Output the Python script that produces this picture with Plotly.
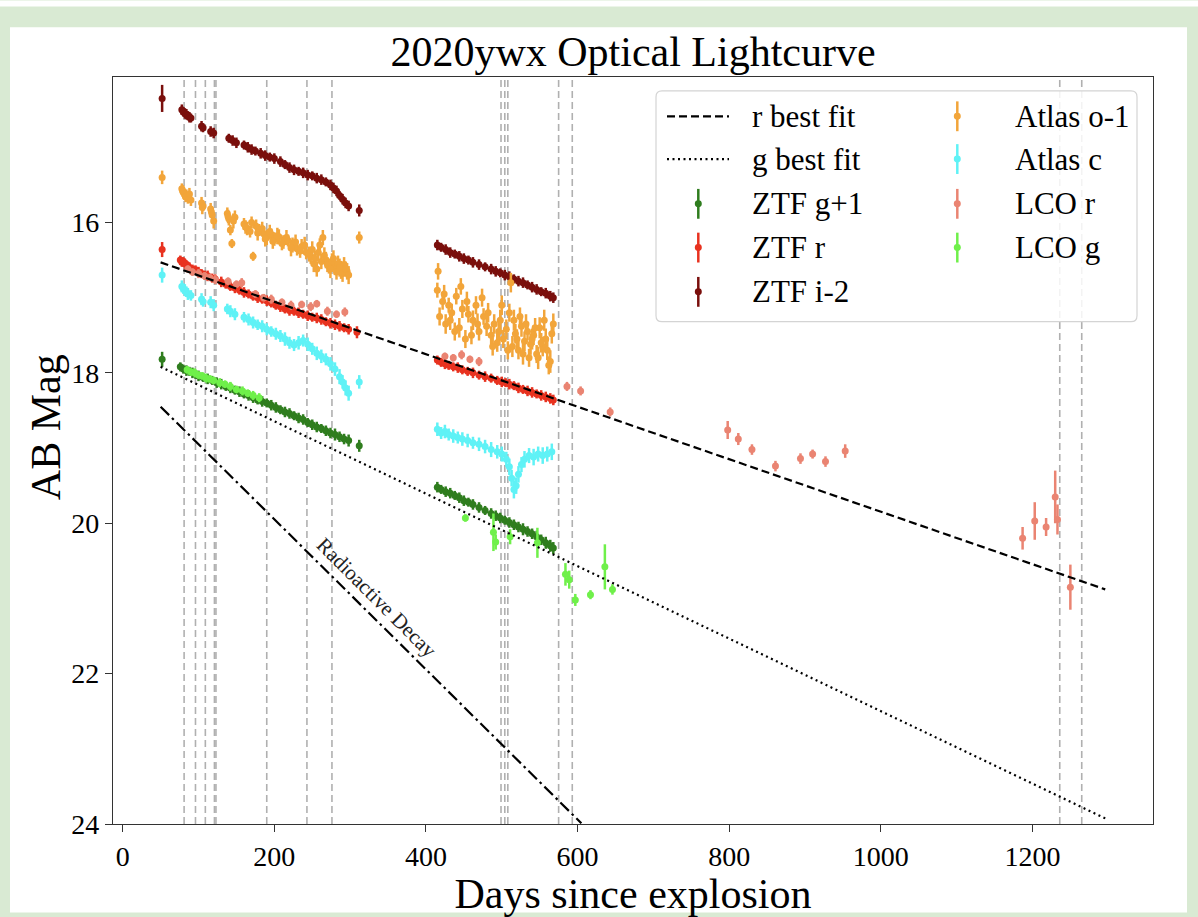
import plotly.graph_objects as go

# ---------------- data ----------------
ztf_g_days = [52, 76, 80, 84, 88, 92, 96, 100, 106, 112, 118, 124, 130, 136, 142, 148,
              154, 160, 166, 172, 178, 184, 190, 196, 202, 208, 214, 220, 226, 232, 238, 244,
              250, 256, 262, 268, 274, 280, 286, 292, 298, 312,
              415, 420, 426, 432, 438, 444, 450, 456, 462, 470, 478, 486, 492, 498, 504, 510,
              516, 522, 528, 534, 540, 546, 552, 558, 564, 568]
ztf_g_mag = [17.82, 17.92, 17.95, 17.97, 17.98, 18.00, 18.02, 18.04, 18.06, 18.08, 18.10, 18.13, 18.15, 18.18, 18.20, 18.23,
             18.25, 18.28, 18.30, 18.33, 18.36, 18.38, 18.40, 18.43, 18.46, 18.49, 18.52, 18.54, 18.57, 18.60, 18.62, 18.66,
             18.69, 18.72, 18.74, 18.77, 18.80, 18.82, 18.85, 18.88, 18.90, 18.97,
             19.52, 19.55, 19.58, 19.60, 19.63, 19.66, 19.70, 19.72, 19.75, 19.79, 19.83, 19.87, 19.90, 19.93, 19.96, 19.99,
             20.02, 20.05, 20.08, 20.11, 20.14, 20.18, 20.22, 20.26, 20.30, 20.33]
ztf_g_err = [0.10, 0.06, 0.06, 0.07, 0.06, 0.07, 0.06, 0.07, 0.06, 0.07, 0.06, 0.07, 0.07, 0.06, 0.07, 0.06,
             0.07, 0.06, 0.07, 0.07, 0.06, 0.07, 0.06, 0.07, 0.07, 0.06, 0.07, 0.07, 0.06, 0.07, 0.07, 0.06,
             0.07, 0.07, 0.06, 0.07, 0.07, 0.08, 0.07, 0.07, 0.08, 0.08,
             0.07, 0.06, 0.07, 0.07, 0.06, 0.07, 0.07, 0.06, 0.07, 0.07, 0.06, 0.07, 0.07, 0.07, 0.06, 0.07,
             0.07, 0.07, 0.08, 0.07, 0.07, 0.08, 0.07, 0.08, 0.08, 0.08]

ztf_r_days = [52, 76, 78, 80, 82, 84, 86, 88, 92, 96, 100, 104, 108, 112, 118, 122,
              130, 136, 142, 148, 154, 160, 166, 172, 178, 184, 190, 196, 202, 208, 214, 220,
              226, 232, 238, 244, 250, 256, 262, 268, 274, 280, 286, 292, 298, 309,
              415, 420, 425, 430, 436, 442, 448, 455, 462, 470, 478, 486, 494, 500, 505, 510,
              516, 522, 528, 534, 540, 546, 552, 558, 564, 568]
ztf_r_mag = [16.36, 16.50, 16.53, 16.52, 16.55, 16.56, 16.58, 16.60, 16.62, 16.63, 16.66, 16.68, 16.70, 16.71, 16.74, 16.75,
             16.79, 16.82, 16.85, 16.87, 16.90, 16.93, 16.95, 16.98, 17.00, 17.02, 17.04, 17.07, 17.10, 17.12, 17.15, 17.17,
             17.18, 17.20, 17.22, 17.24, 17.26, 17.27, 17.29, 17.32, 17.34, 17.36, 17.38, 17.40, 17.42, 17.46,
             17.83, 17.86, 17.88, 17.90, 17.92, 17.93, 17.96, 17.98, 18.00, 18.03, 18.05, 18.07, 18.10, 18.12, 18.13, 18.15,
             18.17, 18.20, 18.22, 18.24, 18.26, 18.28, 18.30, 18.32, 18.34, 18.36]
ztf_r_err = [0.10, 0.06, 0.06, 0.06, 0.07, 0.06, 0.06, 0.07, 0.06, 0.06, 0.07, 0.06, 0.06, 0.07, 0.06, 0.06,
             0.07, 0.06, 0.06, 0.07, 0.06, 0.07, 0.06, 0.06, 0.07, 0.06, 0.07, 0.06, 0.06, 0.07, 0.06, 0.07,
             0.06, 0.07, 0.06, 0.07, 0.06, 0.07, 0.07, 0.06, 0.07, 0.07, 0.07, 0.06, 0.07, 0.08,
             0.06, 0.06, 0.07, 0.06, 0.06, 0.07, 0.06, 0.06, 0.07, 0.06, 0.07, 0.06, 0.06, 0.07, 0.06, 0.07,
             0.06, 0.07, 0.06, 0.07, 0.07, 0.06, 0.07, 0.07, 0.07, 0.07]

ztf_i_days = [52, 78, 80, 82, 84, 86, 88, 90, 104, 106, 116, 120, 140, 145, 150, 160,
              165, 170, 175, 182, 188, 194, 200, 208, 214, 220, 226, 232, 238, 244, 250, 256,
              262, 268, 274, 278, 282, 286, 290, 294, 298, 312,
              415, 420, 426, 432, 438, 444, 450, 456, 462, 470, 478, 486, 492, 498, 504, 510,
              516, 522, 528, 534, 540, 546, 552, 558, 564, 568]
ztf_i_mag = [14.35, 14.50, 14.53, 14.55, 14.56, 14.58, 14.60, 14.61, 14.72, 14.74, 14.79, 14.81, 14.88, 14.91, 14.94, 14.97,
             15.00, 15.03, 15.05, 15.08, 15.11, 15.13, 15.15, 15.19, 15.23, 15.27, 15.30, 15.32, 15.34, 15.37, 15.38, 15.41,
             15.43, 15.46, 15.50, 15.54, 15.58, 15.64, 15.69, 15.74, 15.78, 15.84,
             16.30, 16.33, 16.36, 16.40, 16.42, 16.45, 16.48, 16.50, 16.53, 16.56, 16.59, 16.62, 16.65, 16.67, 16.70, 16.72,
             16.75, 16.78, 16.80, 16.83, 16.86, 16.89, 16.92, 16.94, 16.98, 17.00]
ztf_i_err = [0.18, 0.07, 0.06, 0.07, 0.07, 0.06, 0.07, 0.06, 0.07, 0.06, 0.07, 0.07, 0.06, 0.07, 0.07, 0.06,
             0.07, 0.07, 0.06, 0.07, 0.07, 0.06, 0.07, 0.07, 0.06, 0.07, 0.07, 0.06, 0.07, 0.07, 0.06, 0.07,
             0.07, 0.06, 0.07, 0.07, 0.07, 0.06, 0.07, 0.07, 0.07, 0.08,
             0.07, 0.06, 0.07, 0.07, 0.06, 0.07, 0.07, 0.06, 0.07, 0.07, 0.06, 0.07, 0.07, 0.06, 0.07, 0.07,
             0.06, 0.07, 0.07, 0.06, 0.07, 0.07, 0.06, 0.07, 0.07, 0.07]

atlas_o_days = [52, 78, 80, 82, 84, 86, 90, 104, 106, 116, 118, 120, 138, 140, 142, 144,
                148, 160, 164, 168, 172, 176, 180, 186, 190, 196, 200, 206, 212, 218, 224, 230,
                236, 242, 248, 252, 256, 260, 264, 268, 272, 276, 280, 284, 288, 292, 296, 312,
                79, 83, 88, 105, 117, 139, 146, 162, 170, 178, 184, 188, 194, 198, 204, 210,
                216, 222, 228, 234, 240, 246, 250, 254, 258, 262, 266, 270, 274, 278, 282, 286,
                290, 294, 298,
                415, 418, 422, 426, 430, 434, 440, 444, 448, 452, 456, 462, 466, 470, 476, 480,
                486, 490, 494, 498, 502, 506, 510, 514, 518, 522, 526, 530, 534, 538, 542, 546,
                550, 554, 558, 562, 566, 568,
                416, 424, 432, 438, 446, 454, 460, 468, 474, 482, 488, 496, 500, 508, 512, 516,
                520, 524, 528, 532, 536, 540, 544, 548, 552, 556, 560, 564]
atlas_o_mag = [15.40, 15.55, 15.60, 15.62, 15.64, 15.68, 15.70, 15.74, 15.78, 15.82, 15.90, 15.98, 15.88, 15.95, 16.10, 16.28,
               15.93, 16.02, 16.08, 16.12, 16.45, 16.05, 16.10, 16.15, 16.20, 16.16, 16.22, 16.19, 16.26, 16.24, 16.30, 16.35,
               16.32, 16.40, 16.45, 16.55, 16.62, 16.30, 16.20, 16.50, 16.58, 16.52, 16.60, 16.55, 16.63, 16.56, 16.65, 16.20,
               15.58, 15.66, 15.62, 15.80, 15.86, 15.92, 15.98, 16.06, 16.00, 16.14, 16.08, 16.22, 16.12, 16.25, 16.18, 16.28,
               16.20, 16.34, 16.26, 16.38, 16.30, 16.42, 16.36, 16.48, 16.40, 16.52, 16.44, 16.56, 16.62, 16.48, 16.66, 16.60,
               16.68, 16.62, 16.70,
               16.90, 17.25, 17.05, 17.35, 17.10, 17.20, 16.98, 17.40, 17.15, 17.55, 17.22, 17.30, 17.10, 17.45, 17.25, 17.38,
               17.50, 17.35, 17.60, 17.30, 17.55, 17.42, 17.20, 17.65, 17.48, 17.70, 17.38, 17.58, 17.45, 17.62, 17.50, 17.75,
               17.40, 17.65, 17.55, 17.90, 17.48, 17.35,
               16.65, 16.95, 17.30, 17.45, 16.85, 17.05, 17.50, 17.35, 17.00, 17.20, 17.65, 17.45, 17.10, 17.70, 16.80, 17.30,
               17.55, 17.25, 17.75, 17.35, 17.80, 17.55, 17.40, 17.80, 17.60, 17.30, 17.70, 17.85]
atlas_o_err = [0.09, 0.07, 0.08, 0.07, 0.08, 0.07, 0.08, 0.08, 0.07, 0.08, 0.09, 0.10, 0.08, 0.09, 0.07, 0.06,
               0.09, 0.08, 0.09, 0.08, 0.06, 0.09, 0.08, 0.09, 0.10, 0.08, 0.09, 0.10, 0.09, 0.08, 0.10, 0.09,
               0.10, 0.09, 0.10, 0.11, 0.10, 0.09, 0.10, 0.11, 0.10, 0.11, 0.10, 0.11, 0.12, 0.10, 0.11, 0.08,
               0.08, 0.07, 0.08, 0.09, 0.08, 0.09, 0.10, 0.09, 0.08, 0.10, 0.09, 0.10, 0.09, 0.10, 0.11, 0.09,
               0.10, 0.11, 0.10, 0.09, 0.11, 0.10, 0.11, 0.10, 0.12, 0.10, 0.11, 0.10, 0.12, 0.11, 0.10, 0.12,
               0.11, 0.10, 0.12,
               0.10, 0.12, 0.11, 0.13, 0.10, 0.12, 0.11, 0.13, 0.12, 0.12, 0.11, 0.13, 0.12, 0.12, 0.11, 0.13,
               0.12, 0.13, 0.12, 0.14, 0.12, 0.13, 0.12, 0.14, 0.13, 0.12, 0.14, 0.13, 0.12, 0.14, 0.13, 0.12,
               0.14, 0.13, 0.14, 0.12, 0.13, 0.14,
               0.11, 0.12, 0.13, 0.12, 0.11, 0.13, 0.12, 0.14, 0.12, 0.13, 0.12, 0.14, 0.13, 0.12, 0.13, 0.14,
               0.13, 0.12, 0.14, 0.13, 0.12, 0.14, 0.13, 0.15, 0.13, 0.14, 0.13, 0.15]

atlas_c_days = [52, 78, 80, 82, 84, 86, 90, 104, 106, 116, 120, 138, 142, 148, 160, 166,
                172, 178, 184, 190, 196, 202, 208, 214, 220, 226, 232, 238, 244, 250, 256, 262,
                268, 274, 280, 286, 290, 294, 298, 312,
                415, 420, 425, 430, 436, 442, 448, 455, 462, 470, 478, 486, 494, 500, 506, 510,
                513, 516, 519, 522, 526, 530, 536, 542, 548, 554, 560, 566]
atlas_c_mag = [16.70, 16.85, 16.88, 16.90, 16.92, 16.95, 16.97, 17.02, 17.05, 17.06, 17.10, 17.15, 17.18, 17.22, 17.26, 17.29,
               17.33, 17.36, 17.38, 17.42, 17.45, 17.48, 17.51, 17.55, 17.60, 17.63, 17.60, 17.57, 17.62, 17.68, 17.74, 17.78,
               17.82, 17.88, 17.95, 18.05, 18.12, 18.20, 18.27, 18.12,
               18.75, 18.80, 18.78, 18.82, 18.84, 18.86, 18.88, 18.90, 18.93, 18.95, 18.98, 19.02, 19.05, 19.08, 19.15, 19.25,
               19.40, 19.55, 19.50, 19.35, 19.22, 19.15, 19.10, 19.12, 19.08, 19.10, 19.08, 19.05]
atlas_c_err = [0.10, 0.08, 0.07, 0.08, 0.07, 0.08, 0.07, 0.08, 0.07, 0.08, 0.08, 0.07, 0.08, 0.08, 0.07, 0.08,
               0.08, 0.07, 0.08, 0.08, 0.07, 0.08, 0.08, 0.09, 0.08, 0.08, 0.09, 0.08, 0.09, 0.08, 0.09, 0.09,
               0.08, 0.09, 0.09, 0.10, 0.09, 0.10, 0.10, 0.09,
               0.09, 0.08, 0.09, 0.08, 0.09, 0.08, 0.09, 0.09, 0.08, 0.09, 0.09, 0.10, 0.09, 0.10, 0.10, 0.11,
               0.11, 0.12, 0.11, 0.11, 0.10, 0.11, 0.10, 0.11, 0.10, 0.11, 0.10, 0.11]

lco_r_days = [86, 92, 100, 108, 115, 122, 139, 150, 157, 175, 186, 196, 210, 222, 236, 248,
              256, 270, 282, 293, 425, 436, 447, 458, 470,
              586, 604, 643, 798, 812, 830, 861, 894, 910, 927, 953,
              1187, 1203, 1218, 1230, 1233, 1250]
lco_r_mag = [16.62, 16.66, 16.68, 16.71, 16.73, 16.76, 16.78, 16.82, 16.80, 16.95, 17.00, 17.02, 17.06, 17.10, 17.09, 17.12,
             17.08, 17.18, 17.22, 17.19, 17.78, 17.80, 17.76, 17.82, 17.85,
             18.18, 18.24, 18.52, 18.76, 18.88, 19.02, 19.24, 19.14, 19.08, 19.18, 19.04,
             20.20, 19.97, 20.05, 19.65, 19.95, 20.85]
lco_r_err = [0.05, 0.05, 0.06, 0.05, 0.05, 0.06, 0.05, 0.05, 0.06, 0.05, 0.05, 0.06, 0.05, 0.06, 0.05, 0.06,
             0.05, 0.06, 0.05, 0.06, 0.05, 0.05, 0.06, 0.05, 0.06,
             0.06, 0.06, 0.06, 0.12, 0.08, 0.07, 0.07, 0.07, 0.06, 0.07, 0.09,
             0.15, 0.25, 0.12, 0.35, 0.20, 0.30]

lco_g_days = [85, 90, 95, 100, 105, 110, 115, 120, 128, 135, 142, 150, 158, 165, 172, 180,
              452, 489, 492, 511, 547, 584, 589, 597, 617, 636, 646]
lco_g_mag = [17.96, 17.99, 18.00, 18.03, 18.04, 18.07, 18.08, 18.10, 18.13, 18.15, 18.18, 18.22, 18.24, 18.27, 18.30, 18.33,
             19.93, 20.12, 20.25, 20.18, 20.26, 20.68, 20.75, 21.02, 20.95, 20.58, 20.88]
lco_g_err = [0.05, 0.05, 0.06, 0.05, 0.05, 0.06, 0.05, 0.05, 0.06, 0.05, 0.06, 0.05, 0.06, 0.05, 0.06, 0.06,
             0.05, 0.25, 0.10, 0.10, 0.20, 0.15, 0.12, 0.08, 0.06, 0.30, 0.07]

r_fit_days = [50, 1296]
r_fit_mag = [16.53, 20.88]
g_fit_days = [50, 1297]
g_fit_mag = [17.92, 23.93]
decay_days = [50, 605]
decay_mag = [18.45, 23.99]

vline_days = [81, 96, 109, 121, 123, 190, 243, 276, 499, 504, 508, 575, 593, 1236, 1265]

x_ticks = [0, 200, 400, 600, 800, 1000, 1200]
y_ticks = [16, 18, 20, 22, 24]

series_names = ["ZTF g+1", "ZTF r", "ZTF i-2", "Atlas o-1", "Atlas c", "LCO r", "LCO g"]
series_colors = ["#2f7d1e", "#e8321f", "#7a0f0c", "#f2a53a", "#5ff2f6", "#ea8472", "#6ff04a"]

# ---------------- layout geometry ----------------
W, H = 1198, 917
L, R, T, B = 113, 1153, 77, 828
FONT = "Liberation Serif"


def fx(px):
    return (px - L) / (R - L)


def fy(py):
    return (B - py) / (B - T)


fig = go.Figure()

series_data = [
    (ztf_g_days, ztf_g_mag, ztf_g_err),
    (ztf_r_days, ztf_r_mag, ztf_r_err),
    (ztf_i_days, ztf_i_mag, ztf_i_err),
    (atlas_o_days, atlas_o_mag, atlas_o_err),
    (atlas_c_days, atlas_c_mag, atlas_c_err),
    (lco_r_days, lco_r_mag, lco_r_err),
    (lco_g_days, lco_g_mag, lco_g_err),
]
for name, color, (d, m, e) in zip(series_names, series_colors, series_data):
    assert len(d) == len(m) == len(e), name
    fig.add_trace(go.Scatter(
        x=d, y=m, mode="markers", name=name, showlegend=False,
        marker=dict(color=color, size=7, line=dict(width=0)),
        error_y=dict(type="data", array=e, visible=True, color=color, thickness=2.5, width=0),
    ))

fig.add_trace(go.Scatter(x=r_fit_days, y=r_fit_mag, mode="lines", name="r best fit", showlegend=False,
                         line=dict(color="black", width=2.2, dash="8px,4px")))
fig.add_trace(go.Scatter(x=g_fit_days, y=g_fit_mag, mode="lines", name="g best fit", showlegend=False,
                         line=dict(color="black", width=2.2, dash="2px,3.5px")))
fig.add_trace(go.Scatter(x=decay_days, y=decay_mag, mode="lines", name="Radioactive Decay", showlegend=False,
                         line=dict(color="black", width=2.2, dash="12px,4px,2.5px,4px")))

shapes = []
# page background panel
shapes.append(dict(type="rect", xref="paper", yref="paper", x0=fx(0), x1=fx(W), y0=fy(6), y1=fy(0),
                   fillcolor="white", line=dict(width=0), layer="below"))
shapes.append(dict(type="rect", xref="paper", yref="paper", x0=fx(10), x1=fx(1187), y0=fy(H), y1=fy(27),
                   fillcolor="white", line=dict(width=0), layer="below"))
# vertical dashed epoch lines
for d in vline_days:
    shapes.append(dict(type="line", xref="x", yref="paper", x0=d, x1=d, y0=0, y1=1,
                       line=dict(color="#b0b0b0", width=1.6, dash="7px,4px"), layer="below"))

# legend frame (rounded)
lx0, lx1, ly0, ly1, rad = 656, 1137, 91, 323, 6
rx, ry = rad / (R - L), rad / (B - T)
X0, X1, Y0, Y1 = fx(lx0), fx(lx1), fy(ly1), fy(ly0)
path = (f"M{X0 + rx},{Y1} L{X1 - rx},{Y1} Q{X1},{Y1} {X1},{Y1 - ry} "
        f"L{X1},{Y0 + ry} Q{X1},{Y0} {X1 - rx},{Y0} L{X0 + rx},{Y0} Q{X0},{Y0} {X0},{Y0 + ry} "
        f"L{X0},{Y1 - ry} Q{X0},{Y1} {X0 + rx},{Y1} Z")
shapes.append(dict(type="path", xref="paper", yref="paper", path=path, fillcolor="rgba(255,255,255,0.85)",
                   line=dict(color="#d4d4d4", width=1.2), layer="above"))

rows = [116.5, 159.5, 204.5, 248.5, 293]
# line handles
shapes.append(dict(type="line", xref="paper", yref="paper", x0=fx(667), x1=fx(729), y0=fy(rows[0]), y1=fy(rows[0]),
                   line=dict(color="black", width=2.2, dash="8px,4px")))
shapes.append(dict(type="line", xref="paper", yref="paper", x0=fx(667), x1=fx(729), y0=fy(rows[1]), y1=fy(rows[1]),
                   line=dict(color="black", width=2.2, dash="2px,3.5px")))

legend_items = [
    ("r best fit", None, 0, 0),
    ("g best fit", None, 0, 1),
    ("ZTF g+1", series_colors[0], 0, 2),
    ("ZTF r", series_colors[1], 0, 3),
    ("ZTF i-2", series_colors[2], 0, 4),
    ("Atlas o-1", series_colors[3], 1, 0),
    ("Atlas c", series_colors[4], 1, 1),
    ("LCO r", series_colors[5], 1, 2),
    ("LCO g", series_colors[6], 1, 3),
]
handle_x = [698.3, 957.3]
text_x = [750, 1013]
annotations = []
for label, color, col, row in legend_items:
    yy = rows[row]
    if color is not None:
        hx = handle_x[col]
        shapes.append(dict(type="line", xref="paper", yref="paper", x0=fx(hx), x1=fx(hx),
                           y0=fy(yy + 15), y1=fy(yy - 15), line=dict(color=color, width=2.5)))
        shapes.append(dict(type="circle", xref="paper", yref="paper", x0=fx(hx - 3.5), x1=fx(hx + 3.5),
                           y0=fy(yy + 3.5), y1=fy(yy - 3.5), fillcolor=color, line=dict(width=0)))
    annotations.append(dict(text=label, xref="paper", yref="paper", x=fx(text_x[col]), y=fy(yy),
                            xanchor="left", yanchor="middle", showarrow=False,
                            font=dict(family=FONT, size=31, color="black")))

annotations.append(dict(text="Radioactive Decay", xref="x", yref="y", x=335.5, y=20.99, textangle=45,
                        showarrow=False, font=dict(family=FONT, size=21, color="#222222")))
# y-axis label (placed as in the reference, slightly above the axis centre)
annotations.append(dict(text="AB Mag", xref="paper", yref="paper", x=fx(46), y=fy(429), textangle=-90,
                        xanchor="center", yanchor="middle", showarrow=False,
                        font=dict(family=FONT, size=42, color="black")))

fig.update_layout(
    width=W, height=H,
    margin=dict(l=L, r=W - R, t=T, b=H - B, pad=0),
    paper_bgcolor="#d9ead3", plot_bgcolor="white",
    font=dict(family=FONT, color="black"),
    showlegend=False,
    title=dict(text="2020ywx Optical Lightcurve", x=0.5, xref="paper", xanchor="center",
               y=1 - 51 / H, yref="container", yanchor="middle",
               font=dict(family=FONT, size=42, color="black")),
    shapes=shapes, annotations=annotations,
)
axis_common = dict(ticks="outside", ticklen=7, tickwidth=1.3, tickcolor="#333333", showline=True,
                   linecolor="#333333", linewidth=1.3, mirror=True, showgrid=False, zeroline=False,
                   tickfont=dict(family=FONT, size=28, color="black"))
fig.update_xaxes(range=[-12.8, 1359], tickmode="array", tickvals=x_ticks, ticktext=[str(v) for v in x_ticks],
                 title=dict(text="Days since explosion", font=dict(family=FONT, size=42, color="black"), standoff=4),
                 **axis_common)
fig.update_yaxes(range=[24, 14.065], tickmode="array", tickvals=y_ticks, ticktext=[str(v) for v in y_ticks],
                 **axis_common)

fig.write_html("out.html")
